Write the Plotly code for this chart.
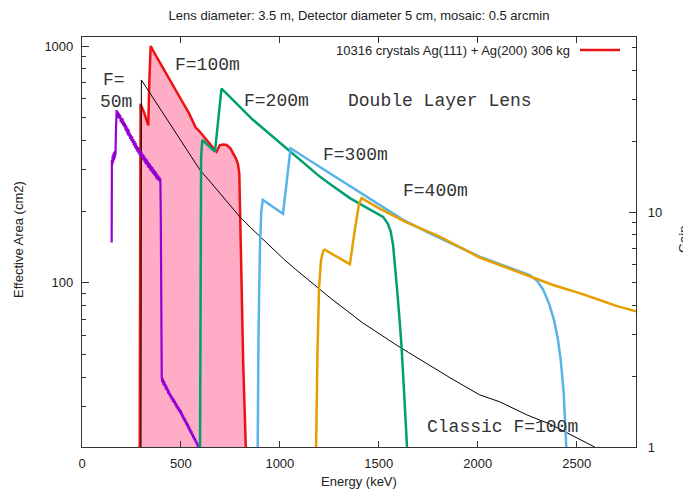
import plotly.graph_objects as go

# ---------------- data ----------------
# F=100m double-layer lens (filled)
e_f100 = [290, 292, 294, 296, 315, 335, 340, 347, 380, 420, 460, 500, 540, 563, 575, 587,
          620, 650, 680, 690, 697, 715, 731, 750, 765, 778, 788, 795, 798, 801, 806, 815, 828, 832]
a_f100 = [5, 20, 300, 570, 520, 462, 700, 1000, 890, 782, 682, 596, 522, 472, 452, 443,
          410, 384, 358, 372, 382, 384, 382, 370, 352, 335, 318, 290, 220, 160, 90, 45, 20, 5]

# Classic lens F=100m
e_classic = [298, 300, 340, 400, 450, 500, 550, 596, 650, 700, 750, 798, 850, 900, 966, 1020,
             1080, 1140, 1202, 1260, 1320, 1380, 1421, 1480, 1540, 1589, 1650, 1720, 1791,
             1860, 1930, 2010, 2111, 2250, 2364, 2480, 2591, 2620]
a_classic = [15, 719, 639, 536, 462, 398, 344, 300, 266, 238, 212, 190, 172, 157, 138, 126,
             114, 103.5, 93.3, 85.7, 78.5, 71.8, 67.6, 62.8, 58.1, 54.7, 50.9, 46.8, 43,
             39.8, 36.8, 33.7, 31.5, 27.7, 25.4, 22.6, 20.3, 19.5]

# F=50m
e_f50 = [150, 150.5, 151, 153, 155, 157, 159, 161, 163, 165, 167, 169, 171, 173,
         175, 178, 181, 184, 187, 190, 193, 196, 199, 202, 205, 208, 211, 214, 217, 220,
         223, 226, 229, 232, 235, 238, 241, 244, 247, 250, 253, 256, 259, 262, 265, 268,
         271, 274, 277, 280, 283, 286, 289, 292, 295, 298, 301, 304, 307, 310, 313, 316,
         319, 322, 325, 328, 331, 334, 337, 340, 343, 346, 349, 352, 355, 358, 361, 364,
         367, 370, 373, 376, 379, 382, 385, 388, 391, 394, 396, 398, 399, 400, 401, 403,
         406, 409, 412, 415, 418, 421, 424, 427, 430, 433, 436, 439, 442, 445, 448, 451,
         454, 457, 460, 463, 466, 469, 472, 475, 478, 481, 484, 487, 490, 493, 496, 499,
         502, 505, 508, 511, 514, 517, 520, 523, 526, 529, 532, 535, 538, 541, 544, 547,
         550, 553, 556, 559, 562, 565, 568, 571, 574, 577, 580, 583, 586, 590]
a_f50 = [148, 260, 330, 315, 345, 322, 352, 330, 358, 335, 360, 345, 420, 500,
         537, 505, 528, 498, 520, 492, 512, 478, 498, 470, 495, 462, 480, 455, 472, 441,
         462, 432, 452, 420, 445, 415, 430, 405, 422, 398, 416, 390, 405, 381, 398, 372,
         390, 366, 380, 358, 374, 352, 368, 345, 362, 342, 356, 336, 350, 330, 345, 325,
         338, 318, 334, 315, 328, 307, 322, 305, 318, 298, 312, 295, 308, 290, 303, 286,
         298, 282, 294, 276, 289, 272, 284, 270, 280, 268, 275, 200, 100, 60, 45, 40,
         38, 39.5, 37, 38.5, 36.5, 37.5, 35.5, 36.8, 35, 35.8, 34, 35, 33.5, 34.2, 32.8, 33.6,
         32.2, 33, 31.5, 32.4, 31, 31.8, 30.4, 31.2, 29.8, 30.6, 29.3, 30, 28.7, 29.5, 28.2, 29,
         27.7, 28.3, 27, 27.7, 26.4, 27.1, 25.9, 26.5, 25.3, 25.9, 24.8, 25.4, 24.3, 24.8, 23.7, 24.2,
         23.2, 23.7, 22.7, 23.1, 22.2, 22.6, 21.7, 22.1, 21.3, 21.6, 20.8, 21.1, 20.3, 19.5]

# F=200m
e_f200 = [594, 596, 598, 602, 608, 640, 672, 690, 705, 750, 800, 865, 920, 980, 1051,
          1100, 1150, 1202, 1260, 1310, 1354, 1420, 1480, 1522, 1545, 1560, 1572, 1582,
          1592, 1605, 1615, 1630, 1643, 1650]
a_f200 = [5, 20, 150, 340, 401, 380, 358, 500, 661, 607, 552, 487, 445, 403, 358,
          331, 306, 281, 259, 242, 228, 212, 199, 190, 178, 165, 145, 120,
          95, 70, 54, 32, 20, 10]

# F=300m
e_f300 = [883, 886, 892, 899, 906, 914, 1016, 1054, 1150, 1250, 1387, 1505, 1623, 1758,
          2010, 2263, 2300, 2330, 2360, 2385, 2405, 2420, 2435, 2448, 2455]
a_f300 = [5, 20, 60, 138, 200, 224, 196, 370, 329, 291, 247, 213, 184.5, 162,
          129, 108, 102, 94, 82, 70, 58, 47, 34, 20, 10]

# F=400m
e_f400 = [1180, 1183, 1190, 1198, 1208, 1220, 1227, 1354, 1380, 1400, 1413, 1500, 1640,
          1808, 2010, 2263, 2330, 2380, 2450, 2515, 2616, 2700, 2800]
a_f400 = [5, 20, 50, 95, 125, 137, 138, 120, 170, 215, 228, 207, 180,
          157, 128, 106.5, 101, 98, 94, 90.6, 84.7, 80, 76]

x_ticks = [0, 500, 1000, 1500, 2000, 2500]
y_ticks = [100, 1000]
y_minor = [20, 30, 40, 50, 60, 70, 80, 90, 200, 300, 400, 500, 600, 700, 800, 900]
y2_ticks = [1, 10]
y2_minor = [2, 3, 4, 5, 6, 7, 8, 9, 20, 30, 40, 50]

title_text = "Lens diameter: 3.5 m, Detector diameter 5 cm, mosaic: 0.5 arcmin"
legend_text = "10316 crystals Ag(111) + Ag(200) 306 kg"

# ---------------- figure ----------------
W, H = 683, 493
ML, MR, MT, MB = 82, 47, 37, 46
PW, PH = W - ML - MR, H - MT - MB


def px(x):
    return (x - ML) / PW


def py(y):
    return (H - MB - y) / PH


SANS = "Liberation Sans, Arial, sans-serif"
MONO = "Courier New, Liberation Mono, monospace"
AX = "#333333"

fig = go.Figure()

fig.add_trace(go.Scatter(x=e_f100, y=a_f100, mode="lines", fill="toself",
                         fillcolor="rgb(255,172,198)",
                         line=dict(color="#ee1111", width=2.5), showlegend=False,
                         hoverinfo="skip"))
fig.add_trace(go.Scatter(x=e_classic, y=a_classic, mode="lines",
                         line=dict(color="black", width=1), showlegend=False))
fig.add_trace(go.Scatter(x=e_f50, y=a_f50, mode="lines",
                         line=dict(color="#9400d3", width=2.2), showlegend=False))
fig.add_trace(go.Scatter(x=e_f200, y=a_f200, mode="lines",
                         line=dict(color="#009e73", width=2.5), showlegend=False))
fig.add_trace(go.Scatter(x=e_f300, y=a_f300, mode="lines",
                         line=dict(color="#56b4e9", width=2.5), showlegend=False))
fig.add_trace(go.Scatter(x=e_f400, y=a_f400, mode="lines",
                         line=dict(color="#e69f00", width=2.5), showlegend=False))
# carrier for the right (gain) axis
fig.add_trace(go.Scatter(x=[0], y=[1], yaxis="y2", mode="markers",
                         marker=dict(opacity=0), showlegend=False, hoverinfo="skip"))

fig.update_layout(
    width=W, height=H,
    margin=dict(l=ML, r=MR, t=MT, b=MB),
    paper_bgcolor="white", plot_bgcolor="white",
    font=dict(family=SANS, size=13, color="#222"),
    title=dict(text=title_text, x=0.5, xref="paper", xanchor="center",
               y=1 - 15 / H, yref="container", yanchor="middle",
               font=dict(family=SANS, size=13, color="#222")),
    xaxis=dict(range=[0, 2800], tickvals=x_ticks, ticks="inside", ticklen=6,
               tickcolor=AX, showline=True, linecolor=AX, linewidth=1.2,
               mirror="ticks", showgrid=False, zeroline=False,
               ticklabelstandoff=4),
    yaxis=dict(type="log", range=[1.3075, 3.038], tickvals=y_ticks,
               ticks="inside", ticklen=7, tickcolor=AX, showline=True,
               linecolor=AX, linewidth=1.2, showgrid=False, zeroline=False,
               ticklabelstandoff=5,
               minor=dict(tickmode="array", tickvals=y_minor, ticks="inside",
                          ticklen=4, tickwidth=1, tickcolor=AX, showgrid=False)),
    yaxis2=dict(type="log", range=[0, 1.745], overlaying="y", side="right",
                tickvals=y2_ticks, ticks="inside", ticklen=7, tickcolor=AX,
                showline=True, linecolor=AX, linewidth=1.2, showgrid=False,
                zeroline=False, ticklabelstandoff=8,
                minor=dict(tickmode="array", tickvals=y2_minor, ticks="inside",
                           ticklen=4, tickwidth=1, tickcolor=AX, showgrid=False)),
)

ann = []
mono = dict(family=MONO, size=18, color="#333")
for text, x, y in [("F=", 114, 80), ("50m", 116, 102), ("F=100m", 207, 65),
                   ("F=200m", 276, 101), ("Double Layer Lens", 440, 101),
                   ("F=300m", 355, 155), ("F=400m", 435, 191),
                   ("Classic F=100m", 502, 427)]:
    ann.append(dict(text=text, x=px(x), y=py(y), xref="paper", yref="paper",
                    xanchor="center", yanchor="middle", showarrow=False, font=mono))

ann.append(dict(text=legend_text, x=px(572), y=py(50), xref="paper", yref="paper",
                xanchor="right", yanchor="middle", showarrow=False,
                font=dict(family=SANS, size=13, color="#222")))
ann.append(dict(text="Energy (keV)", x=0.5, y=py(481), xref="paper", yref="paper",
                xanchor="center", yanchor="middle", showarrow=False,
                font=dict(family=SANS, size=13, color="#222")))
ann.append(dict(text="Effective Area (cm2)", x=px(18), y=py(240), xref="paper",
                yref="paper", xanchor="center", yanchor="middle", textangle=-90,
                showarrow=False, font=dict(family=SANS, size=13, color="#222")))
ann.append(dict(text="Gain", x=px(683), y=py(240), xref="paper",
                yref="paper", xanchor="center", yanchor="middle", textangle=-90,
                showarrow=False, font=dict(family=SANS, size=13, color="#222")))
fig.update_layout(annotations=ann)

fig.add_shape(type="line", xref="paper", yref="paper",
              x0=px(580), x1=px(620), y0=py(50), y1=py(50),
              line=dict(color="#ee1111", width=2.5))

fig.write_html("out.html")
